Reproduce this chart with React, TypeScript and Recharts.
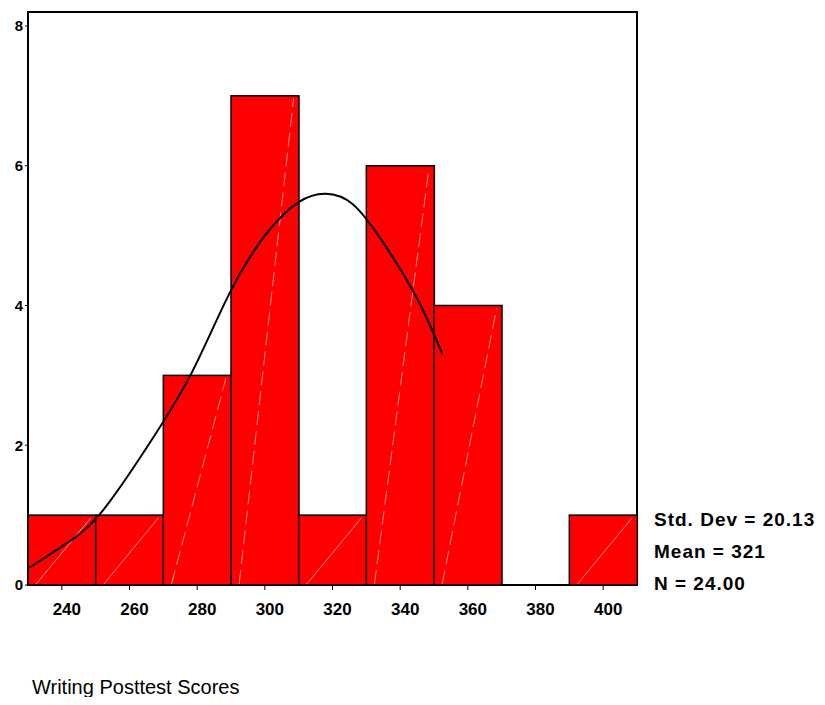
import { ComposedChart, Bar, Line, XAxis, YAxis, ReferenceArea } from 'recharts';

// histogram bins (bin centres) and counts
const bins = ['240', '260', '280', '300', '320', '340', '360', '380', '400'];
const counts = [1, 1, 3, 7, 1, 6, 4, 0, 1];

// normal curve as drawn (score, height)
const curveScores = [230.5, 240, 251, 265, 278, 289, 300, 310, 318, 326, 335, 345, 352.5];
const curveHeights = [0.25, 0.55, 1.0, 1.96, 3.0, 4.12, 5.0, 5.48, 5.6, 5.45, 4.9, 4.1, 3.3];

const yTicks = [0, 2, 4, 6, 8];
const stats = ['Std. Dev = 20.13', 'Mean = 321', 'N = 24.00'];

const barData = bins.map((b, i) => ({ bin: b, count: counts[i] }));
const curveData = curveScores.map((s, i) => ({ score: s, h: curveHeights[i] }));

const W = 809;
const H = 689;

function HistBar(props: any) {
  const { x, y, width, height } = props;
  if (!height || height <= 0) return <g />;
  return (
    <g>
      <rect x={x} y={y} width={width} height={height} fill="#ff0000" stroke="#000" strokeWidth={1.5} />
      <line
        x1={x + width * 0.12}
        y1={y + height - 1}
        x2={x + width * 0.92}
        y2={y + 3}
        stroke="#ffb3b3"
        strokeWidth={1}
        strokeDasharray={height > 200 ? '14 6' : undefined}
        opacity={0.8}
      />
    </g>
  );
}

export default function App() {
  const font = '"Liberation Sans", Arial, sans-serif';
  return (
    <div style={{ position: 'relative', width: W, height: H, fontFamily: font }}>
      <ComposedChart width={W} height={H} data={barData} margin={{ top: 4, right: 180, bottom: 82, left: 0 }} barCategoryGap={0}>
        <XAxis
          xAxisId="cat"
          dataKey="bin"
          axisLine={false}
          tickLine={{ stroke: '#000' }}
          tickSize={5}
          tickMargin={13}
          height={30}
          tick={{ fill: '#000', fontSize: 17, fontWeight: 'bold', fontFamily: font, dx: 5 }}
        />
        <XAxis xAxisId="num" dataKey="score" type="number" domain={[230, 410]} hide allowDataOverflow />
        <YAxis
          domain={[0, 8.2]}
          ticks={yTicks}
          width={20}
          axisLine={false}
          tickLine={{ stroke: '#000' }}
          tickSize={3}
          tickMargin={2}
          allowDataOverflow
          tick={{ fill: '#000', fontSize: 15, fontWeight: 'bold', fontFamily: font }}
        />
        <Bar xAxisId="cat" dataKey="count" shape={HistBar} isAnimationActive={false} />
        <Line
          xAxisId="num"
          data={curveData}
          dataKey="h"
          type="natural"
          stroke="#000"
          strokeWidth={2}
          dot={false}
          isAnimationActive={false}
        />
        <ReferenceArea xAxisId="num" x1={230} x2={410} y1={0} y2={8.2} fill="none" stroke="#000" strokeWidth={2} />
      </ComposedChart>
      <div style={{ position: 'absolute', left: 24, top: 668, fontSize: 20, lineHeight: '22px', color: '#000', whiteSpace: 'nowrap' }}>
        Writing Posttest Scores
      </div>
      <div style={{ position: 'absolute', left: 646, top: 496, fontSize: 19, fontWeight: 'bold', letterSpacing: 1, lineHeight: '32px', color: '#000', whiteSpace: 'nowrap' }}>
        {stats.map((s) => (
          <div key={s}>{s}</div>
        ))}
      </div>
    </div>
  );
}
